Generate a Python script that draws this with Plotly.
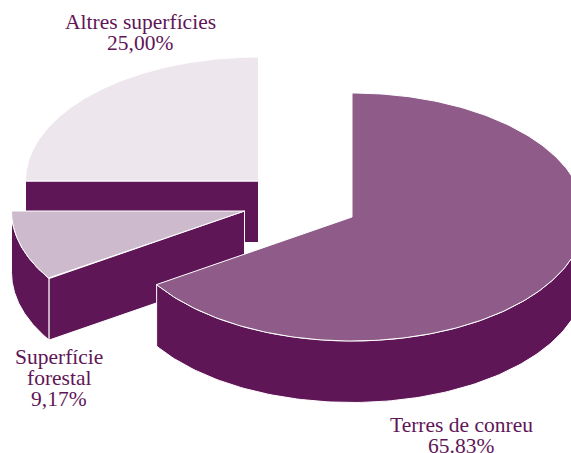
import numpy as np
import plotly.graph_objects as go

labels = ["Terres de conreu", "Superfície forestal", "Altres superfícies"]
values = [65.83, 9.17, 25.00]
value_text = ["65.83%", "9,17%", "25,00%"]
top_colors = ["#8f5c8a", "#cdbacd", "#ede6ed"]
wall_color = "#5f1657"
text_color = "#5f1657"

centers = [(352, 217), (244.5, 211), (258.5, 181)]
RX, RY, DEPTH = 233, 124, 61.5

def pt(c, a):
    a = np.asarray(a, dtype=float)
    return c[0] + RX * np.sin(a), c[1] - RY * np.cos(a)

fig = go.Figure()

def poly(xs, ys, color):
    xs = list(xs) + [xs[0]]
    ys = list(ys) + [ys[0]]
    fig.add_trace(go.Scatter(x=xs, y=ys, mode="lines", fill="toself", fillcolor=color,
                             line=dict(color="white", width=1), hoverinfo="skip", showlegend=False))

fracs = np.array(values) / sum(values) * 2 * np.pi
starts = np.concatenate([[0], np.cumsum(fracs)[:-1]])
ends = starts + fracs

for i in [2, 1, 0]:
    c, s, e = centers[i], starts[i], ends[i]
    # outer wall: arc part in the lower half of the ellipse
    lo, hi = max(s, np.pi / 2), min(e, 1.5 * np.pi)
    if hi > lo:
        t = np.linspace(lo, hi, 120)
        ax, ay = pt(c, t)
        poly(list(ax) + list(ax[::-1]), list(ay) + list(ay[::-1] + DEPTH), wall_color)
    # radial wall at the opening edge faces the viewer when it lies on the left side
    if s > np.pi:
        px, py = pt(c, s)
        poly([c[0], float(px), float(px), c[0]],
             [c[1], float(py), float(py) + DEPTH, c[1] + DEPTH], wall_color)
    # top face
    t = np.linspace(s, e, 240)
    ax, ay = pt(c, t)
    poly([c[0]] + list(ax), [c[1]] + list(ay), top_colors[i])

font = dict(family="Liberation Serif", size=21.5, color=text_color)
label_lines = [["Terres de conreu", value_text[0]],
               ["Superfície", "forestal", value_text[1]],
               ["Altres superfícies", value_text[2]]]
label_pos = [(461, 425), (59, 357), (140, 22)]
LINE_GAP = 21
for lines, (x, y) in zip(label_lines, label_pos):
    for k, line in enumerate(lines):
        fig.add_annotation(x=x, y=y + k * LINE_GAP, text=line, showarrow=False, font=font,
                           xanchor="center", yanchor="middle")

fig.update_xaxes(range=[0, 571], visible=False, fixedrange=True)
fig.update_yaxes(range=[453, 0], visible=False, fixedrange=True)
fig.update_layout(width=571, height=453, margin=dict(l=0, r=0, t=0, b=0),
                  paper_bgcolor="white", plot_bgcolor="white", showlegend=False)
fig.write_html("out.html", config=dict(displayModeBar=False),
               post_script="document.body.style.margin='0';document.body.style.overflow='hidden';")
